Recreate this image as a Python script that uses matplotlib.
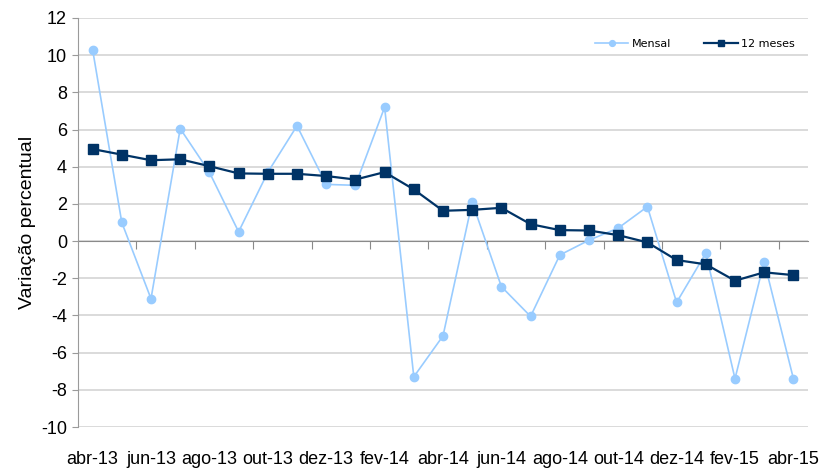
import matplotlib
matplotlib.use("Agg")
import matplotlib.pyplot as plt
import matplotlib.transforms as mtransforms
import numpy as np

plt.rcParams['font.family'] = ['Liberation Sans', 'DejaVu Sans']
plt.rcParams['axes.unicode_minus'] = False

meses = ['abr-13', 'mai-13', 'jun-13', 'jul-13', 'ago-13', 'set-13', 'out-13',
         'nov-13', 'dez-13', 'jan-14', 'fev-14', 'mar-14', 'abr-14', 'mai-14',
         'jun-14', 'jul-14', 'ago-14', 'set-14', 'out-14', 'nov-14', 'dez-14',
         'jan-15', 'fev-15', 'mar-15', 'abr-15']
mensal = [10.3, 1.0, -3.1, 6.05, 3.7, 0.5, 3.7, 6.2, 3.05, 3.0, 7.2, -7.3,
          -5.1, 2.1, -2.45, -4.05, -0.75, 0.05, 0.7, 1.85, -3.3, -0.65,
          -7.4, -1.1, -7.4]
doze_meses = [4.95, 4.65, 4.35, 4.4, 4.03, 3.64, 3.62, 3.62, 3.5, 3.31, 3.71,
              2.78, 1.63, 1.68, 1.79, 0.91, 0.59, 0.57, 0.32, -0.07, -1.02,
              -1.25, -2.13, -1.68, -1.83]

fig = plt.figure(figsize=(8.31, 4.70), dpi=100)
ax = fig.add_axes([78/831, 43/470, 730/831, 409/470])

x = np.arange(len(meses))
ax.plot(x, mensal, color='#99ccff', lw=1.2, marker='o', ms=6,
        label='Mensal', zorder=3)
ax.plot(x, doze_meses, color='#003366', lw=1.6, marker='s', ms=6.5,
        label='12 meses', zorder=4)

ax.set_xlim(-0.5, len(meses) - 0.5)
ax.set_ylim(-10, 12)
ax.set_yticks(np.arange(-10, 13, 2))
ax.yaxis.grid(True, color='#d4d4d4', lw=1.2)
ax.set_axisbelow(True)

for s in ['top', 'right']:
    ax.spines[s].set_visible(False)
ax.spines['left'].set_color('#9a9a9a')
ax.spines['bottom'].set_position(('data', 0))
ax.spines['bottom'].set_color('#8a8a8a')
ax.spines['bottom'].set_zorder(2)

ax.set_xticks(np.arange(1.5, len(meses) - 0.5, 2))
ax.set_xticklabels([])
ax.tick_params(axis='x', direction='out', length=6, color='#8a8a8a')
ax.tick_params(axis='y', direction='out', length=4, color='#9a9a9a',
               labelsize=13, pad=4)

trans = mtransforms.blended_transform_factory(ax.transData, ax.transAxes)
for i in range(0, len(meses), 2):
    ax.text(x[i], -0.08, meses[i], transform=trans, ha='center', va='center',
            fontsize=13)

ax.set_ylabel('Variação percentual', fontsize=14)
ax.yaxis.set_label_coords(-0.057, 0.5)

ax.legend(loc='center', bbox_to_anchor=(0.845, 0.936), ncol=2, frameon=False,
          prop={'family': ['Liberation Sans Narrow', 'DejaVu Sans'], 'size': 8},
          handlelength=3, columnspacing=3, handletextpad=0.3, markerscale=0.7)

fig.savefig('out.png', dpi=100)
